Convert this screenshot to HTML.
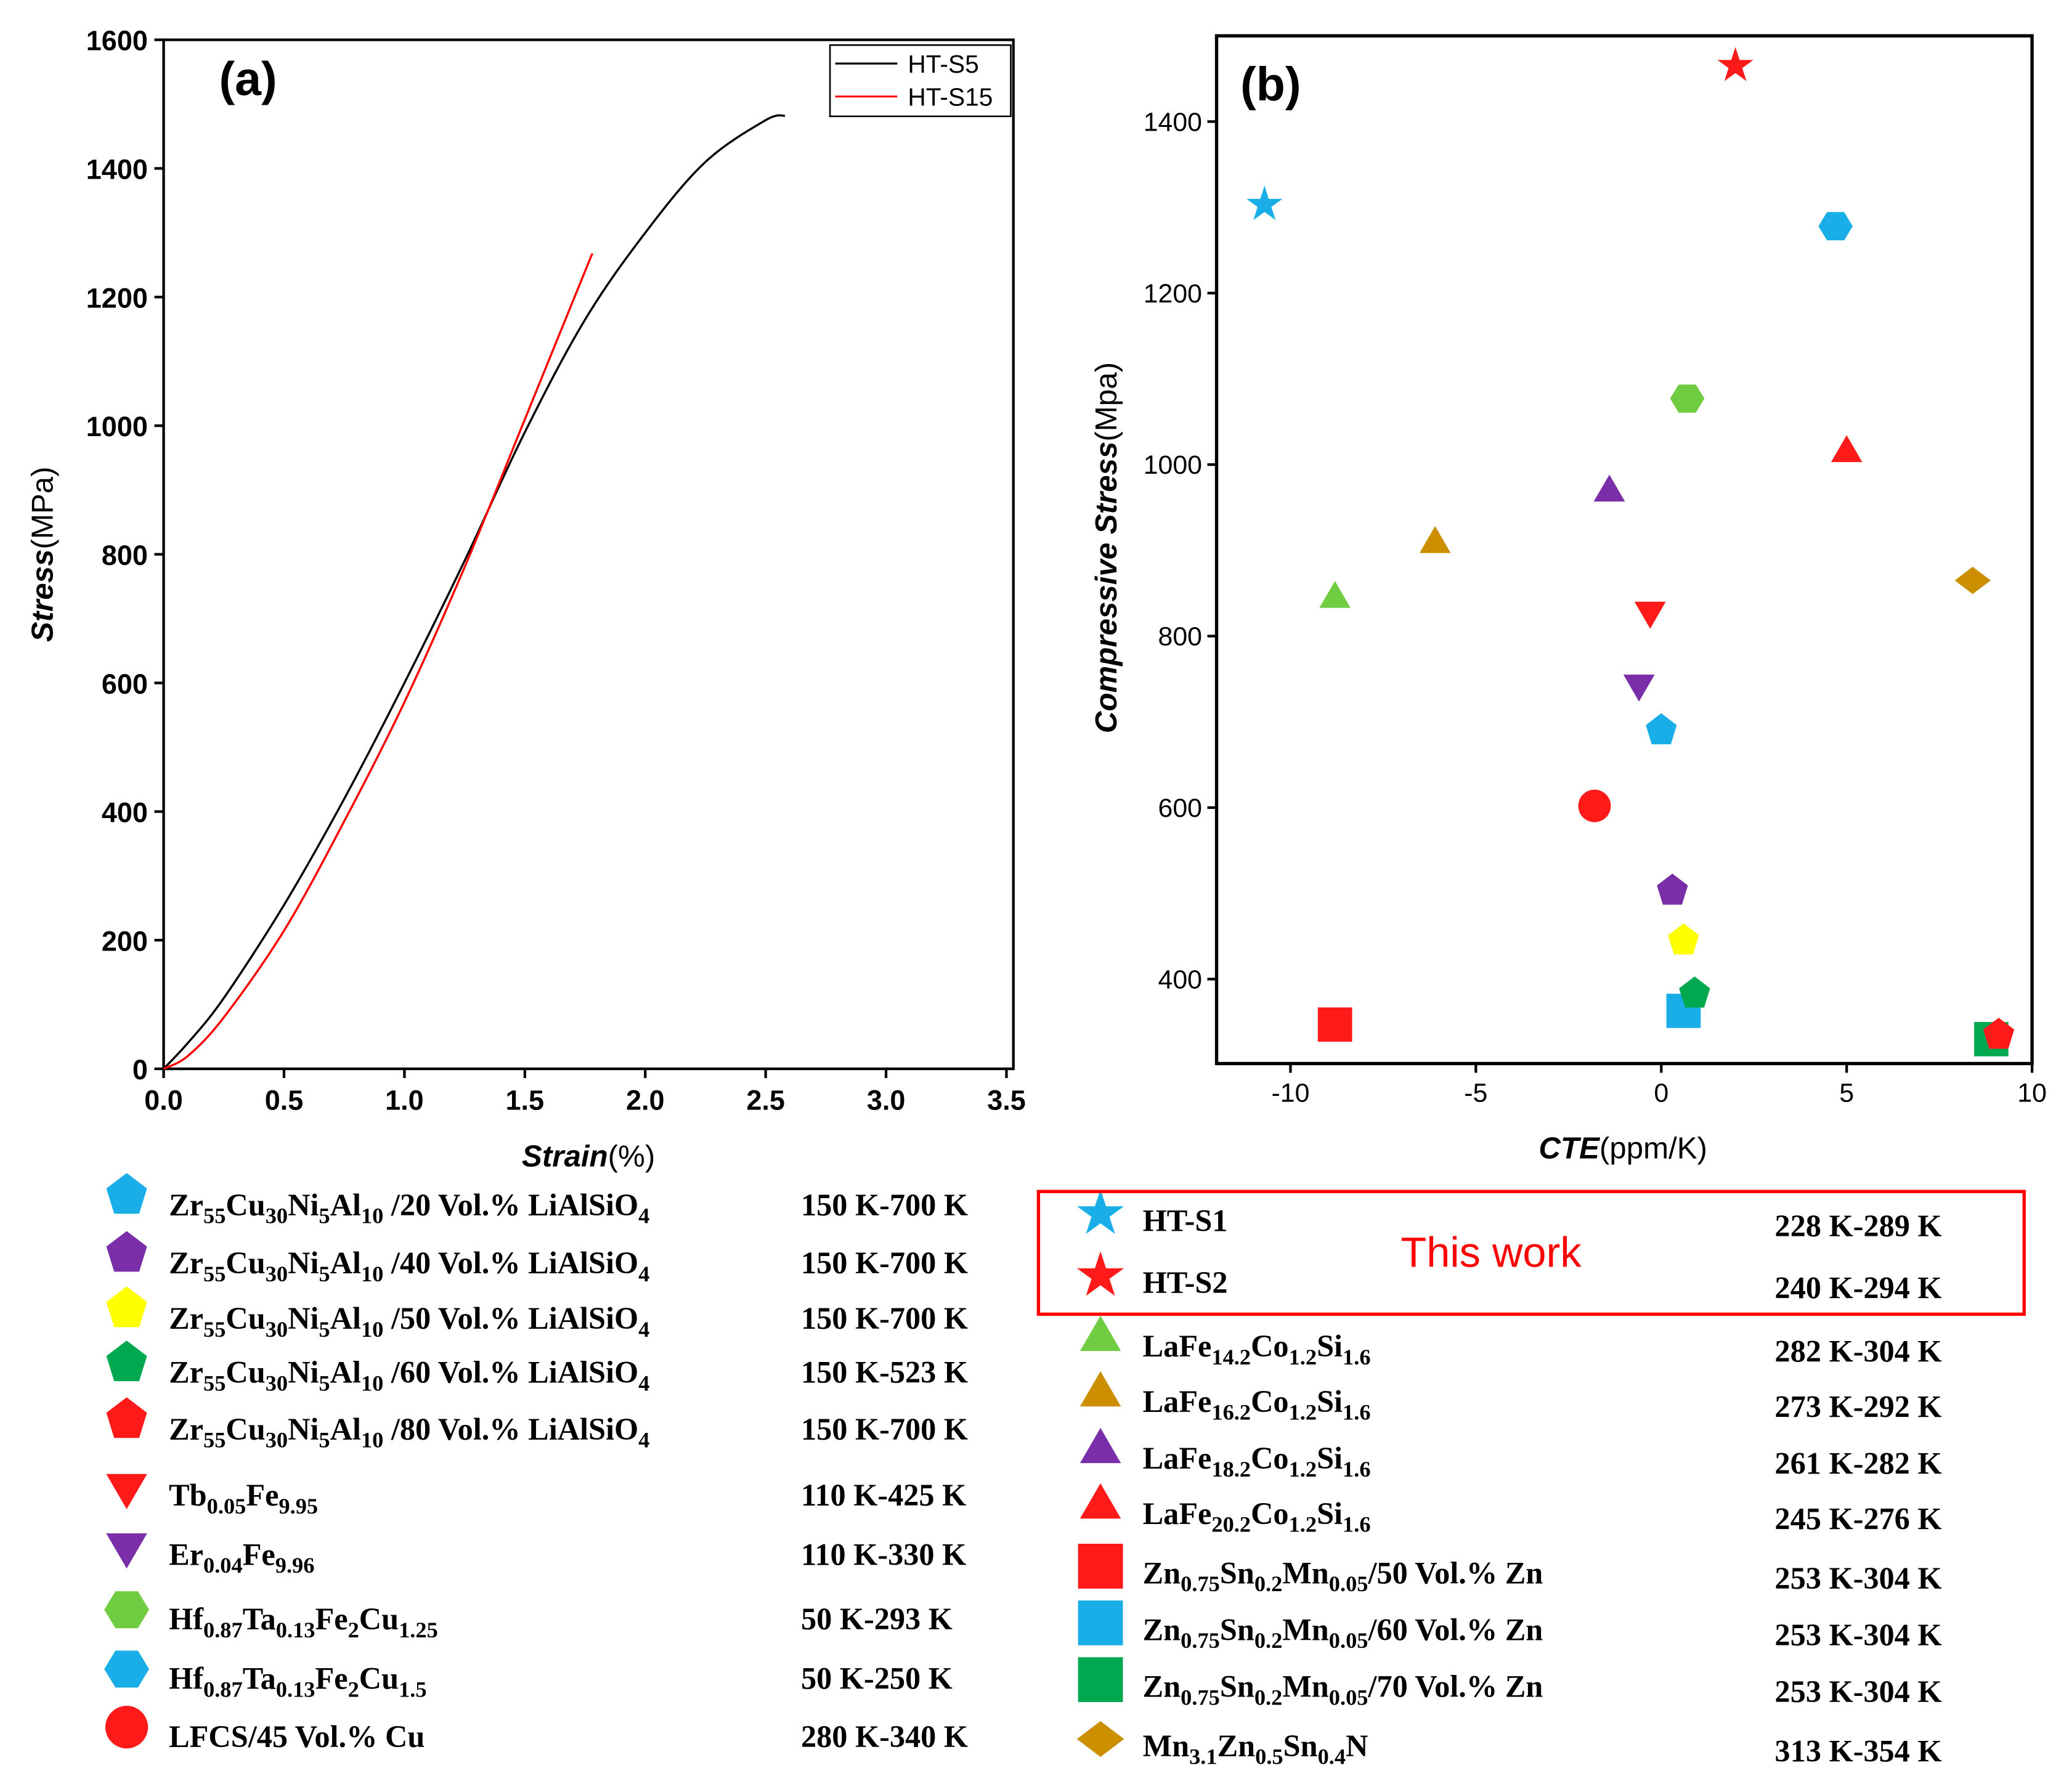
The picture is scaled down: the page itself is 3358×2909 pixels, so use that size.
<!DOCTYPE html>
<html><head><meta charset="utf-8">
<style>
html,body{margin:0;padding:0;background:#fff;}
svg{display:block;}
text{font-family:"Liberation Sans",sans-serif;}
.ser{font-family:"Liberation Serif",serif;font-weight:bold;}
.tick{font-size:21px;font-weight:bold;}
</style></head>
<body>
<svg id="fig" width="3358" height="2909" viewBox="0 0 1568 1358" xmlns="http://www.w3.org/2000/svg">
<g id="pa"></g>
<g id="pb"></g>
<g id="lg"></g>
</svg>
<script>
// ---------- Panel (a) data ----------
const s5Strain = [0,0.1,0.25,0.5,0.75,1.0,1.25,1.5,1.75,2.0,2.25,2.5,2.58];
const s5Stress = [0,40,110,255,420,600,790,990,1165,1300,1410,1475,1482];
const s15Strain = [0,0.1,0.25,0.5,0.75,1.0,1.25,1.5,1.78];
const s15Stress = [0,20,80,215,385,570,780,1010,1268];
const aXTicks = [0,0.5,1.0,1.5,2.0,2.5,3.0,3.5];
const aXLabels = ["0.0","0.5","1.0","1.5","2.0","2.5","3.0","3.5"];
const aYTicks = [0,200,400,600,800,1000,1200,1400,1600];

// ---------- Panel (b) data ----------
const bCTE =    [-10.7,2.0,-8.8,-6.1,-1.4,5.0,-8.8,0.6,8.9,8.4,0,0.3,0.6,0.9,9.1,-0.3,-0.6,0.7,4.7,-1.8];
const bStress = [1303,1465,848,912,972,1018,347,363,330,865,690,503,445,383,335,825,740,1077,1278,602];
const bShape = ["star","star","tri","tri","tri","tri","sq","sq","sq","dia","pent","pent","pent","pent","pent","dtri","dtri","hex","hex","circ"];
const bColor = ["#19aee8","#ff1a1a","#70cc40","#cc8f00","#7a2fa8","#ff1a1a","#ff1a1a","#19aee8","#00a850","#cc8f00","#19aee8","#7a2fa8","#ffff00","#00a850","#ff1a1a","#ff1a1a","#7a2fa8","#70cc40","#19aee8","#ff1a1a"];
const bXTicks = [-10,-5,0,5,10];
const bYTicks = [400,600,800,1000,1200,1400];

const NS="http://www.w3.org/2000/svg";
function mk(tag,attrs,parent){const e=document.createElementNS(NS,tag);for(const k in attrs)e.setAttribute(k,attrs[k]);parent.appendChild(e);return e;}

// ---- Panel a ----
const pa=document.getElementById('pa');
const aL=124,aR=768,aT=30,aB=810;
const ax=v=>124+v*182.5;
const ay=v=>810-v*(780/1600);
let r=mk('rect',{x:aL,y:aT,width:aR-aL,height:aB-aT,fill:'none',stroke:'#000','stroke-width':2},pa);


aXTicks.forEach((t,i)=>{
  mk('line',{x1:ax(t),x2:ax(t),y1:aB,y2:aB+7,stroke:'#000','stroke-width':2},pa);
  const tx=mk('text',{x:ax(t),y:aB+31,'text-anchor':'middle',class:'tick'},pa);tx.textContent=aXLabels[i];
  
  
});
aYTicks.forEach(t=>{
  mk('line',{x1:aL-7,x2:aL,y1:ay(t),y2:ay(t),stroke:'#000','stroke-width':2},pa);
  const tx=mk('text',{x:aL-12,y:ay(t)+8,'text-anchor':'end',class:'tick'},pa);tx.textContent=t;
  
  
});
function curve(xs,ys,col,name){
  const P=xs.map((x,i)=>[ax(x),ay(ys[i])]);
  let d='M'+P[0][0].toFixed(1)+','+P[0][1].toFixed(1);
  for(let i=0;i<P.length-1;i++){
    const p0=P[Math.max(0,i-1)],p1=P[i],p2=P[i+1],p3=P[Math.min(P.length-1,i+2)];
    const c1=[p1[0]+(p2[0]-p0[0])/6,p1[1]+(p2[1]-p0[1])/6];
    const c2=[p2[0]-(p3[0]-p1[0])/6,p2[1]-(p3[1]-p1[1])/6];
    d+=`C${c1[0].toFixed(1)},${c1[1].toFixed(1)} ${c2[0].toFixed(1)},${c2[1].toFixed(1)} ${p2[0].toFixed(1)},${p2[1].toFixed(1)}`;
  }
  const p=mk('path',{d:d,fill:'none',stroke:col,'stroke-width':1.6,'stroke-linejoin':'round'},pa);
  
  
}
curve(s5Strain,s5Stress,'#000','curve-ht-s5');
curve(s15Strain,s15Stress,'#ff0000','curve-ht-s15');
let t=mk('text',{x:166,y:72,'font-size':36,'font-weight':'bold'},pa);t.textContent='(a)';

const lgA=mk('g',{},pa);

mk('rect',{x:629,y:34,width:137,height:54,fill:'#fff',stroke:'#000','stroke-width':1.2},lgA);
mk('line',{x1:633,x2:680,y1:48,y2:48,stroke:'#000','stroke-width':1.5},lgA);
mk('line',{x1:633,x2:680,y1:73,y2:73,stroke:'#f00','stroke-width':1.5},lgA);
t=mk('text',{x:688,y:55,'font-size':19},lgA);t.textContent='HT-S5';
t=mk('text',{x:688,y:80,'font-size':19},lgA);t.textContent='HT-S15';
t=mk('text',{x:446,y:884,'text-anchor':'middle','font-size':23},pa);
t.innerHTML='<tspan font-weight="bold" font-style="italic">Strain</tspan>(%)';

t=mk('text',{x:0,y:0,'text-anchor':'middle','font-size':23,transform:'translate(40,420) rotate(-90)'},pa);
t.innerHTML='<tspan font-weight="bold" font-style="italic">Stress</tspan>(MPa)';


// ---- Panel b ----
const pb=document.getElementById('pb');
const bL=922,bR=1540,bT=27,bB=806;
const bx=v=>1259+v*28.1;
const by=v=>742-(v-400)*0.65;
r=mk('rect',{x:bL,y:bT,width:bR-bL,height:bB-bT,fill:'none',stroke:'#000','stroke-width':2.5},pb);

bXTicks.forEach(v=>{
  mk('line',{x1:bx(v),x2:bx(v),y1:bB,y2:bB+7,stroke:'#000','stroke-width':2},pb);
  const tx=mk('text',{x:bx(v),y:bB+29,'text-anchor':'middle','font-size':20},pb);tx.textContent=v;
  
});
bYTicks.forEach(v=>{
  mk('line',{x1:bL-7,x2:bL,y1:by(v),y2:by(v),stroke:'#000','stroke-width':2},pb);
  const tx=mk('text',{x:bL-11,y:by(v)+7,'text-anchor':'end','font-size':20},pb);tx.textContent=v;
  
});
function shapePath(s,cx,cy,R){
  const poly=(n,rot,rx,ry)=>{let p=[];for(let i=0;i<n;i++){const a=rot+i*2*Math.PI/n;p.push((cx+rx*Math.cos(a)).toFixed(1)+','+(cy+ry*Math.sin(a)).toFixed(1));}return 'M'+p.join('L')+'Z';};
  switch(s){
    case 'star':{let p=[];for(let i=0;i<10;i++){const a=-Math.PI/2+i*Math.PI/5;const rr=i%2?R*0.42:R*1.1;p.push((cx+rr*Math.cos(a)).toFixed(1)+','+(cy+rr*Math.sin(a)).toFixed(1));}return 'M'+p.join('L')+'Z';}
    case 'tri':return poly(3,-Math.PI/2,R*1.05,R*1.05);
    case 'dtri':return poly(3,Math.PI/2,R*1.05,R*1.05);
    case 'sq':return `M${cx-R},${cy-R}h${2*R}v${2*R}h${-2*R}Z`;
    case 'dia':return poly(4,0,R*1.05,R*0.8);
    case 'pent':return poly(5,-Math.PI/2,R*0.95,R*1.0);
    case 'hex':return poly(6,0,R*1.0,R*0.95);
    case 'circ':return poly(40,0,R*0.95,R*0.95);
  }
}
bCTE.forEach((c,i)=>{
  const y=by(bStress[i]);
  const p=mk('path',{d:shapePath(bShape[i],bx(c),y+(bShape[i]==='tri'?3:bShape[i]==='dtri'?-3:0),13),fill:bColor[i]},pb);
  
  
});
t=mk('text',{x:940,y:76,'font-size':36,'font-weight':'bold'},pb);t.textContent='(b)';

t=mk('text',{x:1230,y:878,'text-anchor':'middle','font-size':23},pb);
t.innerHTML='<tspan font-weight="bold" font-style="italic">CTE</tspan>(ppm/K)';

t=mk('text',{x:0,y:0,'text-anchor':'middle','font-size':23,transform:'translate(846,415) rotate(-90)'},pb);
t.innerHTML='<tspan font-weight="bold" font-style="italic">Compressive Stress</tspan>(Mpa)';


// ---- Bottom legend ----
const leftNames=["Zr_{55}Cu_{30}Ni_{5}Al_{10} /20 Vol.% LiAlSiO_{4}","Zr_{55}Cu_{30}Ni_{5}Al_{10} /40 Vol.% LiAlSiO_{4}","Zr_{55}Cu_{30}Ni_{5}Al_{10} /50 Vol.% LiAlSiO_{4}","Zr_{55}Cu_{30}Ni_{5}Al_{10} /60 Vol.% LiAlSiO_{4}","Zr_{55}Cu_{30}Ni_{5}Al_{10} /80 Vol.% LiAlSiO_{4}","Tb_{0.05}Fe_{9.95}","Er_{0.04}Fe_{9.96}","Hf_{0.87}Ta_{0.13}Fe_{2}Cu_{1.25}","Hf_{0.87}Ta_{0.13}Fe_{2}Cu_{1.5}","LFCS/45 Vol.% Cu"];
const leftRanges=["150 K-700 K","150 K-700 K","150 K-700 K","150 K-523 K","150 K-700 K","110 K-425 K","110 K-330 K","50 K-293 K","50 K-250 K","280 K-340 K"];
const leftShapes=["pent","pent","pent","pent","pent","dtri","dtri","hex","hex","circ"];
const leftColors=["#19aee8","#7a2fa8","#ffff00","#00a850","#ff1a1a","#ff1a1a","#7a2fa8","#70cc40","#19aee8","#ff1a1a"];
const leftY=[913,957,999,1040,1083,1133,1178,1227,1272,1316];
const rightNames=["HT-S1","HT-S2","LaFe_{14.2}Co_{1.2}Si_{1.6}","LaFe_{16.2}Co_{1.2}Si_{1.6}","LaFe_{18.2}Co_{1.2}Si_{1.6}","LaFe_{20.2}Co_{1.2}Si_{1.6}","Zn_{0.75}Sn_{0.2}Mn_{0.05}/50 Vol.% Zn","Zn_{0.75}Sn_{0.2}Mn_{0.05}/60 Vol.% Zn","Zn_{0.75}Sn_{0.2}Mn_{0.05}/70 Vol.% Zn","Mn_{3.1}Zn_{0.5}Sn_{0.4}N"];
const rightRanges=["228 K-289 K","240 K-294 K","282 K-304 K","273 K-292 K","261 K-282 K","245 K-276 K","253 K-304 K","253 K-304 K","253 K-304 K","313 K-354 K"];
const rightShapes=["star","star","tri","tri","tri","tri","sq","sq","sq","dia"];
const rightColors=["#19aee8","#ff1a1a","#70cc40","#cc8f00","#7a2fa8","#ff1a1a","#ff1a1a","#19aee8","#00a850","#cc8f00"];
const rightY=[925,972,1020,1062,1105,1147,1192,1235,1278,1323];
const lg=document.getElementById('lg');
function richText(str,x,y,parent){
  const tx=mk('text',{x:x,y:y,class:'ser','font-size':23.5},parent);
  const parts=str.split(/(_\{[^}]*\})/);let html='';let sub=false;
  parts.forEach(p=>{if(!p)return;if(p.startsWith('_{')){html+=`<tspan dy="6" font-size="17">${p.slice(2,-1)}</tspan>`;sub=true;}else{html+=`<tspan dy="${sub?-6:0}">${p.replace(/&/g,'&amp;')}</tspan>`;sub=false;}});
  tx.innerHTML=html;return tx;
}
leftNames.forEach((n,i)=>{
  const g=mk('g',{},lg);
  
  
  mk('path',{d:shapePath(leftShapes[i],96,leftY[i]-7,17),fill:leftColors[i]},g);
  richText(n,128,leftY[i]+8,g);
  const rt=mk('text',{x:607,y:leftY[i]+8,class:'ser','font-size':23.5},g);rt.textContent=leftRanges[i];
});
rightNames.forEach((n,i)=>{
  const g=mk('g',{},lg);
  
  
  mk('path',{d:shapePath(rightShapes[i],834,rightY[i]-5,17),fill:rightColors[i]},g);
  richText(n,866,rightY[i]+8,g);
  const rt=mk('text',{x:1345,y:rightY[i]+12,class:'ser','font-size':23.5},g);rt.textContent=rightRanges[i];
});
r=mk('rect',{x:787,y:903,width:747,height:93,fill:'none',stroke:'#ff0000','stroke-width':2.5},lg);

t=mk('text',{x:1130,y:960,'text-anchor':'middle','font-size':32,fill:'#ff0000'},lg);t.textContent='This work';

</script>
</body></html>
